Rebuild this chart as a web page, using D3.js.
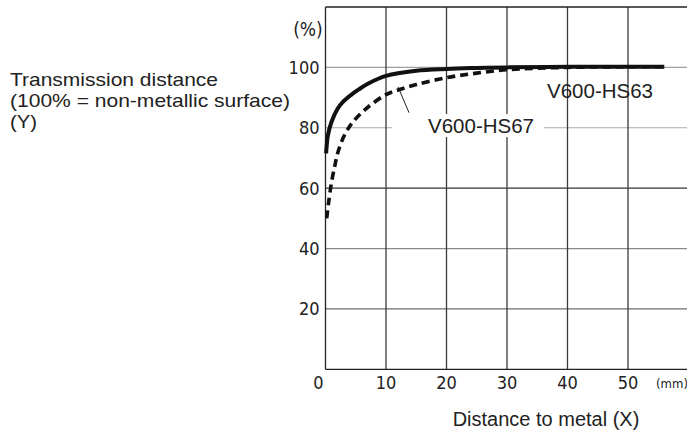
<!DOCTYPE html>
<html>
<head>
<meta charset="utf-8">
<script src="https://cdn.jsdelivr.net/npm/d3@7"></script>
<style>
  html, body { margin: 0; padding: 0; background: #fff; }
  svg { display: block; }
</style>
</head>
<body>
<svg id="chart" width="687" height="433"></svg>
<script>
// ---- data ----
const xTicks = [0, 10, 20, 30, 40, 50];
const yTicks = [20, 40, 60, 80, 100];
const hs63X = [0.1, 0.4, 1, 2, 3, 4.3, 5.5, 7, 10, 15, 20, 25, 30, 40, 50, 56];
const hs63Y = [71.5, 77.5, 82, 86.3, 88.8, 91, 92.7, 94.6, 97.2, 98.9, 99.5, 99.8, 100, 100.2, 100.2, 100.2];
const hs67X = [0.2, 0.5, 1, 1.5, 2, 3, 4, 5, 7, 10, 12, 15, 20, 25, 30, 35, 40, 50, 56];
const hs67Y = [50, 55, 62, 67, 71.5, 77, 80.5, 83, 86.8, 91, 92.5, 94.3, 96.6, 98.1, 99.2, 99.7, 100, 100.2, 100.2];
const seriesNames = ["V600-HS63", "V600-HS67"];
const yTitleLines = ["Transmission distance", "(100% = non-metallic surface)", "(Y)"];
const xTitle = "Distance to metal (X)";
const yUnit = "(%)";
const xUnit = "(mm)";

// ---- styles ----
const hGridColor = {20: "#6e6e6e", 40: "#8a8a8a", 60: "#333", 80: "#aaa", 100: "#a0a0a0"};
const labelFont = "'Liberation Sans', Arial, Helvetica, sans-serif";
const tickFont = "'Liberation Sans Narrow', 'DejaVu Sans Condensed', 'Liberation Sans', sans-serif";
const titleLineWidths = [208, 280, 27];

const svg = d3.select("#chart");
const pL = 325.5, pT = 7, pR = 688.5, pB = 369.3;

const x = d3.scaleLinear().domain([0, 60]).range([pL, pR]);
const y = d3.scaleLinear().domain([0, 120]).range([pB, pT]);

// horizontal grid
svg.append("g").selectAll("line").data(yTicks).join("line")
  .attr("x1", pL).attr("x2", 687)
  .attr("y1", d => y(d)).attr("y2", d => y(d))
  .attr("stroke", d => hGridColor[d]).attr("stroke-width", 1.2);

// vertical grid
svg.append("g").selectAll("line").data(xTicks.filter(d => d > 0)).join("line")
  .attr("x1", d => x(d)).attr("x2", d => x(d))
  .attr("y1", pT).attr("y2", pB)
  .attr("stroke", "#3a3a3a").attr("stroke-width", 1.3);

// frame: left, bottom, top
svg.append("line").attr("x1", pL).attr("x2", pL).attr("y1", pT).attr("y2", pB)
  .attr("stroke", "#222").attr("stroke-width", 1.3);
svg.append("line").attr("x1", pL).attr("x2", 687).attr("y1", pB).attr("y2", pB)
  .attr("stroke", "#222").attr("stroke-width", 1.3);
svg.append("line").attr("x1", pL).attr("x2", 687).attr("y1", pT).attr("y2", pT)
  .attr("stroke", "#222").attr("stroke-width", 1.3);

// y tick labels
svg.append("g").selectAll("text").data(yTicks).join("text")
  .attr("x", pL - 6).attr("y", d => y(d) + 6.5)
  .attr("text-anchor", "end")
  .attr("font-family", tickFont).attr("font-size", 18).attr("fill", "#222")
  .text(d => d);

// x tick labels
svg.append("g").selectAll("text").data(xTicks).join("text")
  .attr("x", d => d === 0 ? x(d) - 7 : x(d))
  .attr("y", pB + 19.5)
  .attr("text-anchor", "middle")
  .attr("font-family", tickFont).attr("font-size", 18).attr("fill", "#222")
  .text(d => d);

svg.append("text").attr("x", 672).attr("y", pB + 19)
  .attr("text-anchor", "middle")
  .attr("font-family", tickFont).attr("font-size", 13).attr("fill", "#222")
  .text(xUnit);

svg.append("text").attr("x", 308).attr("y", 36)
  .attr("text-anchor", "middle")
  .attr("font-family", tickFont).attr("font-size", 19).attr("fill", "#222")
  .text(yUnit);

// axis titles
svg.append("text").attr("x", 546).attr("y", 426)
  .attr("text-anchor", "middle")
  .attr("font-family", labelFont).attr("font-size", 20).attr("fill", "#222")
  .text(xTitle);

svg.append("g").selectAll("text").data(yTitleLines).join("text")
  .attr("x", 10).attr("y", (d, i) => 85.5 + i * 21.3)
  .attr("font-family", labelFont).attr("font-size", 19).attr("fill", "#222")
  .attr("textLength", (d, i) => titleLineWidths[i])
  .attr("lengthAdjust", "spacingAndGlyphs")
  .text(d => d);

// HS67 label with background break in grid
const lab67 = svg.append("g");
const bg = lab67.append("rect").attr("fill", "#fff");
const t67 = lab67.append("text").attr("x", 428).attr("y", 133)
  .attr("font-family", labelFont).attr("font-size", 20.5).attr("fill", "#222")
  .text(seriesNames[1]);
const bb = t67.node().getBBox();
bg.attr("x", bb.x - 36).attr("width", bb.width + 46)
  .attr("y", bb.y).attr("height", bb.height);

svg.append("text").attr("x", 547).attr("y", 98)
  .attr("font-family", labelFont).attr("font-size", 20.5).attr("fill", "#222")
  .text(seriesNames[0]);

// leader line for HS67
svg.append("line")
  .attr("x1", x(12)).attr("y1", y(93.5))
  .attr("x2", x(13.8)).attr("y2", y(85))
  .attr("stroke", "#222").attr("stroke-width", 1);

// curves
const line = d3.line().x(d => x(d[0])).y(d => y(d[1])).curve(d3.curveCatmullRom.alpha(0.5));
svg.append("path").datum(d3.zip(hs67X, hs67Y))
  .attr("d", line).attr("fill", "none")
  .attr("stroke", "#111").attr("stroke-width", 3.6)
  .attr("stroke-dasharray", "8,5");
svg.append("path").datum(d3.zip(hs63X, hs63Y))
  .attr("d", line).attr("fill", "none")
  .attr("stroke", "#111").attr("stroke-width", 4);
</script>
</body>
</html>
